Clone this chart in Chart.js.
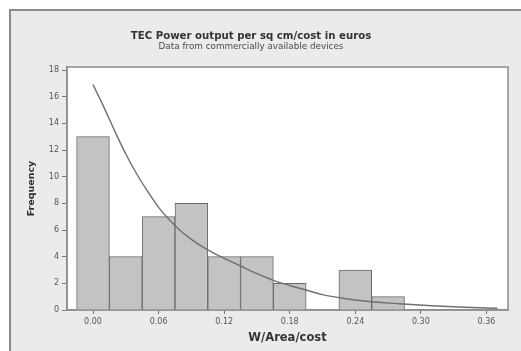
<!DOCTYPE html>
<html>
<head>
<meta charset="utf-8">
<script src="https://cdn.jsdelivr.net/npm/chart.js@4.4.1/dist/chart.umd.min.js"></script>
<style>
  html, body { margin: 0; padding: 0; background: #ffffff; }
  #wrap { width: 521px; height: 351px; position: relative; }
</style>
</head>
<body>
<div id="wrap"><canvas id="hist" width="521" height="351"></canvas></div>
<script>
// Histogram bins (bin centres, width 0.03) and counts
const binCenters = [0.00, 0.03, 0.06, 0.09, 0.12, 0.15, 0.18, 0.21, 0.24, 0.27];
const frequencies = [13, 4, 7, 8, 4, 4, 2, 0, 3, 1];

// Fitted exponential density curve, scaled to counts
const fitX = [0.00, 0.01, 0.02, 0.03, 0.04, 0.05, 0.06, 0.07, 0.08, 0.09, 0.10, 0.11, 0.12,
              0.135, 0.15, 0.165, 0.18, 0.195, 0.21, 0.23, 0.25, 0.28, 0.31, 0.34, 0.37];
const fitY = [16.9, 15.2, 13.4, 11.7, 10.2, 8.9, 7.7, 6.75, 5.95, 5.3, 4.75, 4.28, 3.88,
              3.3, 2.72, 2.22, 1.84, 1.5, 1.15, 0.86, 0.66, 0.47, 0.32, 0.21, 0.13];

// Axis tick values
const xTicks = [0.00, 0.06, 0.12, 0.18, 0.24, 0.30, 0.36];
const yTicks = [0, 2, 4, 6, 8, 10, 12, 14, 16, 18];

const titleText = 'TEC Power output per sq cm/cost in euros';
const subtitleText = 'Data from commercially available devices';

Chart.defaults.font.family = '"DejaVu Sans", sans-serif';
Chart.defaults.color = '#444444';

const frame = {
  id: 'frame',
  beforeDraw(chart) {
    const { ctx, chartArea: a } = chart;
    const W = chart.width, H = chart.height;
    ctx.save();
    ctx.fillStyle = '#ffffff';
    ctx.fillRect(0, 0, W, H);
    // graph region
    ctx.fillStyle = '#ebebeb';
    ctx.fillRect(10, 10, W - 10, H - 10);
    ctx.strokeStyle = '#8a8a8a';
    ctx.lineWidth = 2;
    ctx.beginPath();
    ctx.moveTo(10, H);
    ctx.lineTo(10, 10);
    ctx.lineTo(W, 10);
    ctx.stroke();
    // data region
    ctx.fillStyle = '#ffffff';
    ctx.fillRect(a.left, a.top, a.right - a.left, a.bottom - a.top);
    ctx.strokeStyle = '#8c8c8c';
    ctx.lineWidth = 1.5;
    ctx.strokeRect(a.left, a.top, a.right - a.left, a.bottom - a.top);
    // titles
    ctx.fillStyle = '#333333';
    ctx.textAlign = 'center';
    ctx.textBaseline = 'middle';
    ctx.font = 'bold 10.2px "DejaVu Sans"';
    ctx.fillText(titleText, 251, 36.5);
    ctx.fillStyle = '#4a4a4a';
    ctx.font = '8.8px "DejaVu Sans"';
    ctx.fillText(subtitleText, 251, 47);
    ctx.restore();
  }
};

new Chart(document.getElementById('hist'), {
  type: 'bar',
  data: {
    datasets: [
      {
        type: 'line',
        data: fitX.map((x, i) => ({ x, y: fitY[i] })),
        borderColor: '#707070',
        borderWidth: 1.4,
        pointRadius: 0,
        cubicInterpolationMode: 'monotone',
        fill: false,
        order: 0
      },
      {
        type: 'bar',
        data: binCenters.map((x, i) => ({ x, y: frequencies[i] })),
        backgroundColor: '#c3c3c3',
        borderColor: '#6a6a6a',
        borderWidth: 1,
        barPercentage: 1,
        categoryPercentage: 1,
        order: 1
      }
    ]
  },
  options: {
    responsive: false,
    animation: false,
    layout: { padding: { left: 0, top: 67, right: 13, bottom: 0 } },
    plugins: { legend: { display: false }, tooltip: { enabled: false } },
    scales: {
      x: {
        type: 'linear',
        offset: false,
        min: -0.0238,
        max: 0.3797,
        afterFit(s) { s.height = 41; },
        afterBuildTicks(s) { s.ticks = xTicks.map(v => ({ value: v })); },
        grid: { offset: false, drawOnChartArea: false, drawTicks: true, tickLength: 4, tickColor: '#777777' },
        border: { display: true, color: '#8c8c8c', width: 1.5 },
        ticks: {
          font: { size: 8 },
          color: '#555555',
          padding: 3,
          maxRotation: 0,
          callback: v => Number(v).toFixed(2)
        },
        title: {
          display: true,
          text: 'W/Area/cost',
          font: { size: 11.5, weight: 'bold' },
          color: '#333333',
          padding: { top: 0, bottom: 6.5 }
        }
      },
      y: {
        min: 0,
        max: 18.225,
        afterFit(s) { s.width = 67; },
        afterBuildTicks(s) { s.ticks = yTicks.map(v => ({ value: v })); },
        grid: { drawOnChartArea: false, drawTicks: true, tickLength: 5, tickColor: '#777777' },
        border: { display: true, color: '#8c8c8c', width: 1.5 },
        ticks: { font: { size: 8 }, color: '#555555', padding: 3 },
        title: {
          display: true,
          text: 'Frequency',
          font: { size: 9.5, weight: 'bold' },
          color: '#333333',
          padding: { top: 26, bottom: 0 }
        }
      }
    }
  },
  plugins: [frame]
});
</script>
</body>
</html>
